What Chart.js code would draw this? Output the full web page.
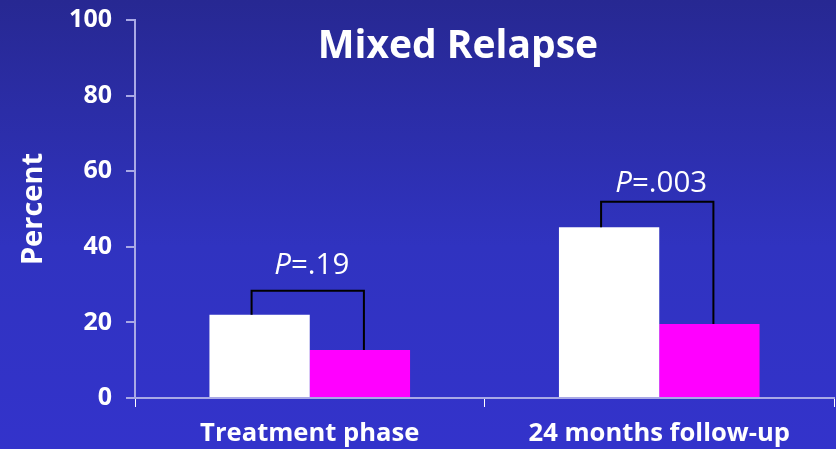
<!DOCTYPE html>
<html>
<head>
<meta charset="utf-8">
<script src="https://cdn.jsdelivr.net/npm/chart.js@4/dist/chart.umd.min.js"></script>
<style>
  html, body { margin: 0; padding: 0; }
  body { width: 836px; height: 449px; overflow: hidden;
         background: linear-gradient(to bottom, #272892 0%, #3033c0 55%, #3333cb 100%); }
  #wrap { position: relative; width: 836px; height: 449px; }
</style>
</head>
<body>
<div id="wrap"><canvas id="c" width="836" height="449"></canvas></div>
<script>
const categories = ["Treatment phase", "24 months follow-up"];
const seriesA = [22.0, 45.2];   // white bars
const seriesB = [12.7, 19.6];   // magenta bars
const bracketTop = [28.4, 51.9];
const pValues = ["=.19", "=.003"];
const pLabelY = [32.8, 54.5];
const yTicks = [0, 20, 40, 60, 80, 100];
const chartTitle = "Mixed Relapse";
const yTitle = "Percent";

const FONT = "'Open Sans', 'DejaVu Sans', sans-serif";
const AXIS_COLOR = "#a9a9e6";
const PSIZE = 29.5;

const annotPlugin = {
  id: 'annot',
  afterDatasetsDraw(chart) {
    const ctx = chart.ctx;
    const ys = chart.scales.y;
    const m0 = chart.getDatasetMeta(0), m1 = chart.getDatasetMeta(1);
    ctx.save();
    for (let j = 0; j < categories.length; j++) {
      const a = m0.data[j], b = m1.data[j];
      const xl = a.x - 8, xr = b.x + 4;
      const yt = ys.getPixelForValue(bracketTop[j]);
      ctx.strokeStyle = '#000';
      ctx.lineWidth = 2;
      ctx.beginPath();
      ctx.moveTo(xl, a.y);
      ctx.lineTo(xl, yt);
      ctx.lineTo(xr, yt);
      ctx.lineTo(xr, b.y);
      ctx.stroke();
      // P label
      const cx = (a.x + b.x) / 2 + 2;
      const by = ys.getPixelForValue(pLabelY[j]);
      ctx.fillStyle = '#fff';
      ctx.textBaseline = 'alphabetic';
      ctx.font = "italic " + PSIZE + "px " + FONT;
      const wP = ctx.measureText('P').width;
      ctx.font = PSIZE + "px " + FONT;
      const wR = ctx.measureText(pValues[j]).width;
      const x0 = cx - (wP + wR) / 2;
      ctx.textAlign = 'left';
      ctx.font = "italic " + PSIZE + "px " + FONT;
      ctx.fillText('P', x0, by);
      ctx.font = PSIZE + "px " + FONT;
      ctx.fillText(pValues[j], x0 + wP, by);
    }
    // chart title
    const ca = chart.chartArea;
    ctx.font = "bold 39px " + FONT;
    ctx.textAlign = 'center';
    ctx.fillStyle = '#fff';
    ctx.fillText(chartTitle, ca.left + ca.width * 0.462, 58);
    ctx.restore();
  }
};

new Chart(document.getElementById('c'), {
  type: 'bar',
  data: {
    labels: categories,
    datasets: [
      { data: seriesA, backgroundColor: '#ffffff', borderWidth: 0,
        categoryPercentage: 0.574, barPercentage: 1.0 },
      { data: seriesB, backgroundColor: '#ff00ff', borderWidth: 0,
        categoryPercentage: 0.574, barPercentage: 1.0 }
    ]
  },
  options: {
    responsive: false,
    animation: false,
    layout: { padding: { top: 20, right: 2, left: 0, bottom: 0 } },
    plugins: { legend: { display: false }, tooltip: { enabled: false }, title: { display: false } },
    scales: {
      x: {
        grid: { display: true, drawOnChartArea: false, drawTicks: true, tickLength: 9,
                color: '#ffffff', offset: true },
        border: { color: AXIS_COLOR, width: 2 },
        ticks: { color: '#fff', font: { family: FONT, size: 25.6, weight: 'bold' }, padding: 11, maxRotation: 0 },
        afterFit(s) { s.height = 51; s.paddingLeft = 0; s.paddingRight = 0; }
      },
      y: {
        min: 0, max: 100,
        afterBuildTicks(s) { s.ticks = yTicks.map(v => ({ value: v })); },
        grid: { display: true, drawOnChartArea: false, drawTicks: true, tickLength: 9, color: AXIS_COLOR, lineWidth: 2 },
        border: { color: AXIS_COLOR, width: 2 },
        ticks: { color: '#fff', font: { family: FONT, size: 25, weight: 'bold' }, padding: 14 },
        title: { display: true, text: yTitle, color: '#fff', font: { family: FONT, size: 29, weight: 'bold' }, padding: { top: 16, bottom: 0 } },
        afterFit(s) { s.width = 135; s.paddingTop = 0; s.paddingBottom = 0; }
      }
    }
  },
  plugins: [annotPlugin]
});
</script>
</body>
</html>
